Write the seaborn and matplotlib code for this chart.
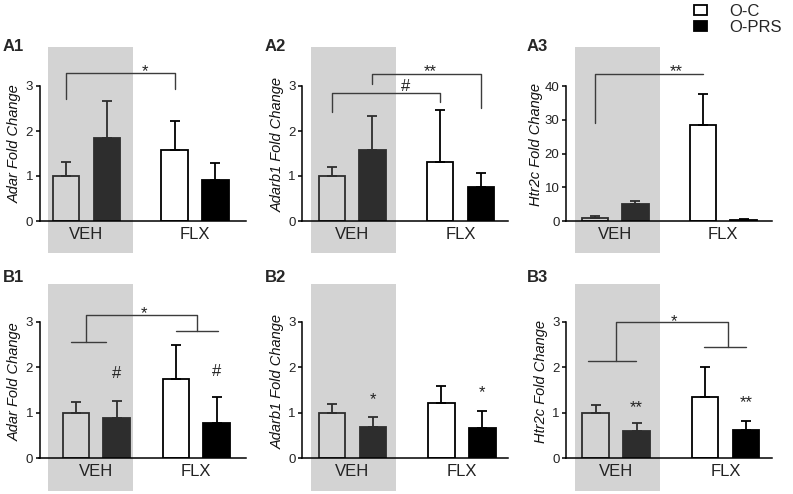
import matplotlib
matplotlib.use("Agg")
import matplotlib.pyplot as plt
from matplotlib.patches import Patch, Rectangle
import pandas as pd
import seaborn as sns

# ---------------------------------------------------------------
# Data (fold change, mean and SEM), order: VEH O-C, VEH O-PRS, FLX O-C, FLX O-PRS
# ---------------------------------------------------------------
treatments = ["VEH", "FLX"]
groups = ["O-C", "O-PRS"]

a1_adar = [1.00, 1.84, 1.57, 0.92]
a1_adar_sem = [0.32, 0.83, 0.65, 0.36]
a2_adarb1 = [1.00, 1.58, 1.30, 0.75]
a2_adarb1_sem = [0.19, 0.75, 1.17, 0.32]
a3_htr2c = [1.0, 5.0, 28.5, 0.3]
a3_htr2c_sem = [0.45, 0.9, 9.1, 0.15]
b1_adar = [1.00, 0.89, 1.74, 0.77]
b1_adar_sem = [0.24, 0.38, 0.75, 0.58]
b2_adarb1 = [1.00, 0.68, 1.21, 0.66]
b2_adarb1_sem = [0.19, 0.22, 0.38, 0.38]
b3_htr2c = [1.00, 0.61, 1.35, 0.63]
b3_htr2c_sem = [0.18, 0.17, 0.65, 0.20]

a_ticks = [0, 1, 2, 3]
a3_ticks = [0, 10, 20, 30, 40]

# significance brackets (polylines in data coords) and marks (text, x, y baseline)
a1_lines = [[(-0.1875, 2.71), (-0.1875, 3.28), (0.8125, 3.28), (0.8125, 2.93)]]
a1_marks = [("*", 0.54, 3.22)]
a2_lines = [[(-0.1875, 2.43), (-0.1875, 2.84), (0.8125, 2.84), (0.8125, 2.65)],
            [(0.1875, 3.04), (0.1875, 3.27), (1.1875, 3.27), (1.1875, 2.50)]]
a2_marks = [("#", 0.49, 2.89), ("**", 0.72, 3.22)]
a3_lines = [[(-0.1875, 29.1), (-0.1875, 43.6), (0.8125, 43.6)]]
a3_marks = [("**", 0.566, 42.9)]
b1_lines = [[(-0.25, 2.56), (0.10, 2.56)],
            [(-0.10, 2.56), (-0.10, 3.14), (1.007, 3.14), (1.007, 2.79)],
            [(0.80, 2.79), (1.213, 2.79)]]
b1_marks = [("*", 0.48, 3.08), ("#", 0.204, 1.755), ("#", 1.204, 1.80)]
b2_lines = []
b2_marks = [("*", 0.1875, 1.19), ("*", 1.1875, 1.35)]
b3_lines = [[(-0.26, 2.14), (0.18, 2.14)],
            [(0.0, 2.14), (0.0, 3.0), (1.02, 3.0), (1.02, 2.44)],
            [(0.806, 2.44), (1.19, 2.44)]]
b3_marks = [("*", 0.526, 2.91), ("**", 0.1875, 1.01), ("**", 1.1875, 1.12)]

panels = [
    ("A1", "Adar", a1_adar, a1_adar_sem, a_ticks, a1_lines, a1_marks),
    ("A2", "Adarb1", a2_adarb1, a2_adarb1_sem, a_ticks, a2_lines, a2_marks),
    ("A3", "Htr2c", a3_htr2c, a3_htr2c_sem, a3_ticks, a3_lines, a3_marks),
    ("B1", "Adar", b1_adar, b1_adar_sem, a_ticks, b1_lines, b1_marks),
    ("B2", "Adarb1", b2_adarb1, b2_adarb1_sem, a_ticks, b2_lines, b2_marks),
    ("B3", "Htr2c", b3_htr2c, b3_htr2c_sem, a_ticks, b3_lines, b3_marks),
]

# ---------------------------------------------------------------
# Layout (pixels of a 793x494 figure)
# ---------------------------------------------------------------
W, H = 793, 494
ax_left = [39.5, 302, 566]
ax_bottom = [221, 458.3]          # y=0 line, from top
ax_w, ax_h = 206, 171
xlims = [(-0.433, 1.466), (-0.462, 1.437), (-0.453, 1.449),
         (-0.567, 1.493), (-0.462, 1.423), (-0.457, 1.424)]
bar_width = [0.75, 0.75, 0.75, 0.816, 0.75, 0.75]
ytops = [3.8, 3.8, 50.7, 3.76, 3.76, 3.76]

sns.set_style("ticks")
plt.rcParams["font.family"] = ["Liberation Sans", "DejaVu Sans"]

fig = plt.figure(figsize=(W / 100, H / 100), dpi=100)
palette = {"O-C": "white", "O-PRS": "black"}

for i, (tag, gene, means, sems, yticks, lines, marks) in enumerate(panels):
    row, col = divmod(i, 3)
    ax = fig.add_axes([ax_left[col] / W, (H - ax_bottom[row]) / H, ax_w / W, ax_h / H])

    df = pd.DataFrame({
        "treatment": [t for t in treatments for _ in groups],
        "group": groups * len(treatments),
        "fold": means,
        "sem": sems,
    })
    sns.barplot(data=df, x="treatment", y="fold", hue="group",
                order=treatments, hue_order=groups, palette=palette,
                edgecolor="black", linewidth=1.3, width=bar_width[i], gap=0.35,
                errorbar=None, legend=False, ax=ax)

    # upper-only error bars
    sem_lookup = df.set_index(["treatment", "group"])["sem"]
    bar_conts = list(ax.containers)
    for h_i, cont in enumerate(bar_conts):
        for bar in cont.patches:
            cx = bar.get_x() + bar.get_width() / 2
            t = treatments[int(round(cx))]
            s = sem_lookup[(t, groups[h_i])]
            ax.errorbar(cx, bar.get_height(), yerr=[[0], [s]], fmt="none",
                        ecolor="black", elinewidth=1.3, capsize=3.6,
                        capthick=1.3, zorder=1.5)

    # grey VEH shading laid over the bars
    ax.add_patch(Rectangle((0.042, -0.19), 0.413, 1.21, transform=ax.transAxes,
                           facecolor=(0.514, 0.514, 0.514), alpha=0.35,
                           edgecolor="none", clip_on=False, zorder=2))

    for pts in lines:
        xs, ys = zip(*pts)
        ax.plot(xs, ys, color="#3c3c3c", lw=1.0, zorder=3, clip_on=False)
    for txt, x, y in marks:
        ax.text(x, y, txt, ha="center", va="baseline", fontsize=12,
                color="#222222", zorder=3)

    ax.set_xlim(*xlims[i])
    ax.set_ylim(0, ytops[i])
    ax.set_yticks(yticks)
    ax.spines["left"].set_bounds(yticks[0], yticks[-1])
    sns.despine(ax=ax)
    for sp in ("left", "bottom"):
        ax.spines[sp].set_linewidth(1.1)
        ax.spines[sp].set_color("black")
    ax.set_axisbelow(False)
    ax.tick_params(axis="y", length=3.2, width=1.1, pad=1.5, labelsize=9.5,
                   colors="black", labelcolor="#222222")
    ax.tick_params(axis="x", length=0, pad=4, labelsize=12, labelcolor="#222222")
    ax.set_xlabel("")
    ax.set_ylabel(f"{gene} Fold Change", fontstyle="italic", fontsize=10.5,
                  color="#111111")
    ax.yaxis.set_label_coords(-0.112 if yticks[-1] > 9 else -0.085, 0.45)

    fig.text([3, 265, 527][col] / W, 1 - [51, 282][row] / H, tag,
             fontsize=12, fontweight="bold", ha="left", va="baseline")

handles = [Patch(facecolor="white", edgecolor="black", linewidth=1.3, label="O-C"),
           Patch(facecolor="black", edgecolor="black", linewidth=1.3, label="O-PRS")]
fig.legend(handles=handles, loc="upper left", bbox_to_anchor=(694 / W, 1 - 4 / H),
           frameon=False, fontsize=12, handlelength=0.8, handleheight=0.48,
           handletextpad=1.3, labelspacing=0.05, borderpad=0, borderaxespad=0)

fig.savefig("out.png", dpi=100)
